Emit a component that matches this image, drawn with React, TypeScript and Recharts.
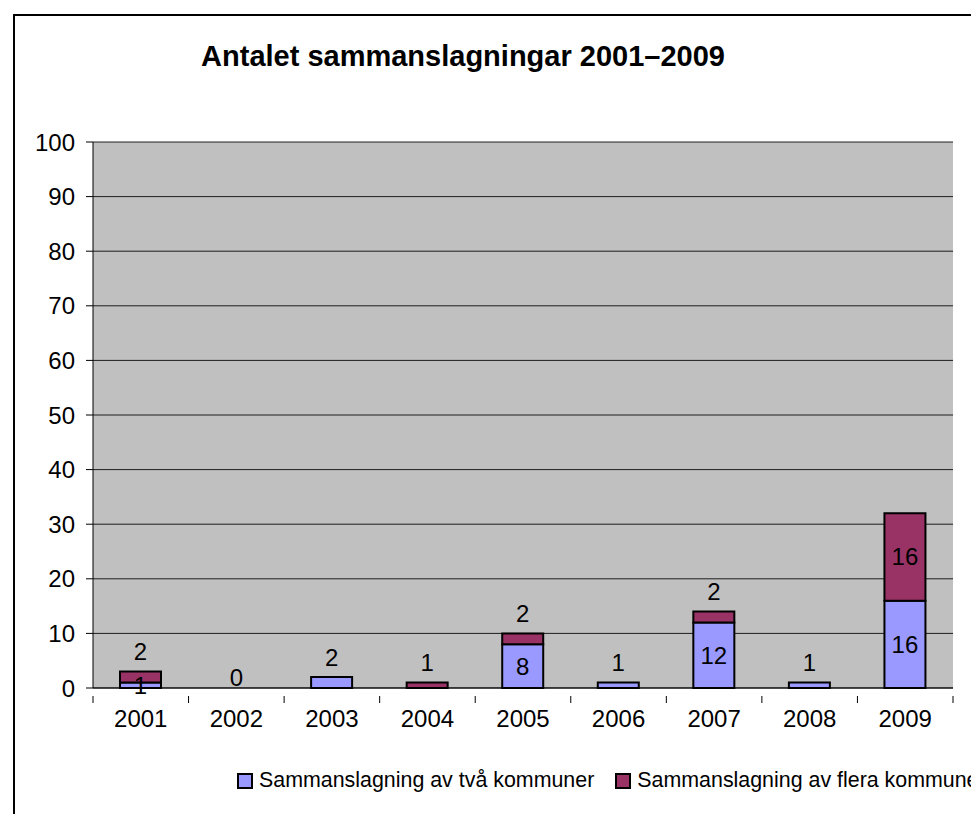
import { BarChart, Bar, XAxis, YAxis, CartesianGrid, LabelList, ReferenceDot } from 'recharts';

const years = ['2001', '2002', '2003', '2004', '2005', '2006', '2007', '2008', '2009'];
const twoMunicipalities = [1, 0, 2, 0, 8, 1, 12, 1, 16];
const severalMunicipalities = [2, 0, 0, 1, 2, 0, 2, 0, 16];
const yTicks = [0, 10, 20, 30, 40, 50, 60, 70, 80, 90, 100];

const TWO_COLOR = '#9999FF';
const SEVERAL_COLOR = '#993366';
const FONT = '"Liberation Sans", Arial, sans-serif';

const PLOT_LEFT = 93;
const PLOT_RIGHT = 953;
const BAND = (PLOT_RIGHT - PLOT_LEFT) / years.length;

const rows = years.map((year, i) => ({
  year,
  two: twoMunicipalities[i],
  several: severalMunicipalities[i],
}));

// years with nothing at all still get a "0" above the axis
const emptyRows = rows.filter((r) => r.two + r.several === 0);

function makeLabel(key: 'two' | 'several') {
  return (props: any) => {
    const { x, y, width, height } = props;
    const i = Math.floor((Number(x) + Number(width) / 2 - PLOT_LEFT) / BAND);
    const row = rows[i];
    if (!row) return null;
    const value = row[key];
    if (value === 0) return null;
    const isTop = key === 'several' || row.several === 0;
    const h = Math.abs(Number(height) || 0);
    const cx = Number(x) + Number(width) / 2;
    const cy = isTop && h < 30 ? Number(y) - 20 : Number(y) + h / 2;
    return (
      <text key={`${key}-${i}`} x={cx} y={cy} textAnchor="middle" dominantBaseline="central" fontSize={24} fontFamily={FONT} fill="#000">
        {value}
      </text>
    );
  };
}

function YearTick(props: any) {
  const { x, y, payload, index } = props;
  return (
    <g>
      <line x1={x - BAND / 2} y1={y} x2={x - BAND / 2} y2={y + 7} stroke="#000" />
      {index === years.length - 1 && <line x1={x + BAND / 2} y1={y} x2={x + BAND / 2} y2={y + 7} stroke="#000" />}
      <text x={x} y={y + 22} textAnchor="middle" dominantBaseline="central" fontSize={24} fontFamily={FONT} fill="#000">
        {payload.value}
      </text>
    </g>
  );
}

export default function App() {
  return (
    <div style={{ position: 'absolute', left: 0, top: 0, width: 971, height: 814, overflow: 'hidden', background: '#fff', fontFamily: FONT }}>
      <div style={{ position: 'absolute', left: 13, top: 14, width: 1100, height: 900, border: '2px solid #000', boxSizing: 'border-box' }} />
      <div style={{ position: 'absolute', left: 0, top: 40, width: 926, textAlign: 'center', fontSize: 29, fontWeight: 'bold' }}>
        Antalet sammanslagningar 2001–2009
      </div>
      <div style={{ position: 'absolute', left: 0, top: 0 }}>
        <BarChart width={971} height={814} data={rows} margin={{ top: 142, right: 971 - PLOT_RIGHT, bottom: 66, left: 0 }} barSize={41}>
          <CartesianGrid vertical={false} fill="#C0C0C0" stroke="#000" strokeOpacity={0.85} />
          <XAxis dataKey="year" tick={<YearTick />} tickLine={false} axisLine={{ stroke: '#000' }} height={60} interval={0} />
          <YAxis
            domain={[0, 100]}
            ticks={yTicks}
            width={PLOT_LEFT}
            tickSize={7}
            tickMargin={11}
            tick={{ fill: '#000', fontSize: 24, fontFamily: FONT }}
            axisLine={{ stroke: '#000' }}
            tickLine={{ stroke: '#000' }}
          />
          <Bar dataKey="two" stackId="a" fill={TWO_COLOR} stroke="#000" strokeWidth={2} isAnimationActive={false}>
            <LabelList dataKey="two" content={makeLabel('two')} />
          </Bar>
          <Bar dataKey="several" stackId="a" fill={SEVERAL_COLOR} stroke="#000" strokeWidth={2} isAnimationActive={false}>
            <LabelList dataKey="several" content={makeLabel('several')} />
          </Bar>
          {emptyRows.map((r) => (
            <ReferenceDot
              key={r.year}
              x={r.year}
              y={0}
              r={0}
              fill="none"
              stroke="none"
              label={{ value: String(r.two + r.several), position: 'top', offset: 2, fontSize: 24, fill: '#000', fontFamily: FONT }}
            />
          ))}
        </BarChart>
      </div>
      <div style={{ position: 'absolute', left: 237, top: 768, display: 'flex', alignItems: 'center', fontSize: 21.4, whiteSpace: 'nowrap' }}>
        <span style={{ display: 'inline-block', width: 12, height: 12, background: TWO_COLOR, border: '2px solid #000', marginRight: 6 }} />
        <span style={{ marginRight: 21 }}>Sammanslagning av två kommuner</span>
        <span style={{ display: 'inline-block', width: 12, height: 12, background: SEVERAL_COLOR, border: '2px solid #000', marginRight: 6 }} />
        <span>Sammanslagning av flera kommuner</span>
      </div>
    </div>
  );
}
